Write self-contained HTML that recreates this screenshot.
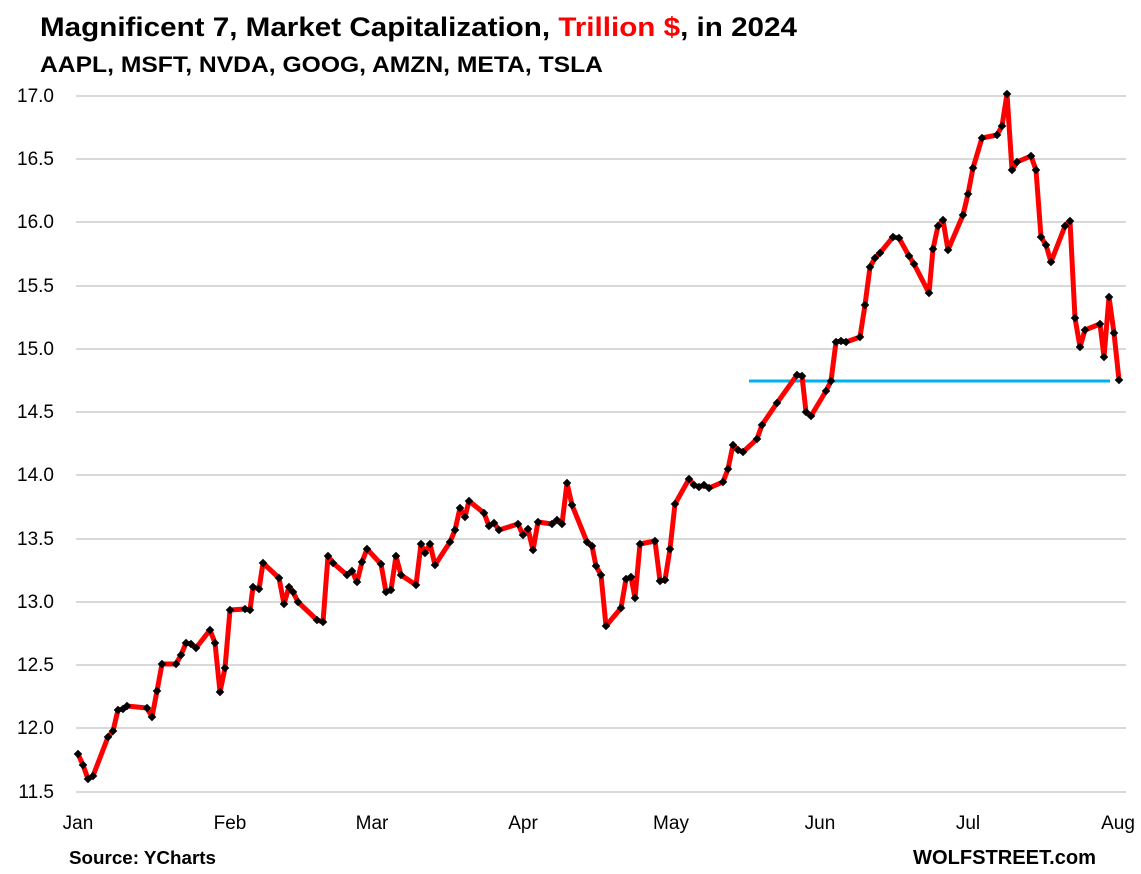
<!DOCTYPE html>
<html><head><meta charset="utf-8"><style>
html,body{margin:0;padding:0;background:#fff;}
svg{display:block;font-family:"Liberation Sans",Arial,sans-serif;}
</style></head><body>
<svg width="1141" height="874" viewBox="0 0 1141 874" xmlns="http://www.w3.org/2000/svg">
<rect width="1141" height="874" fill="#fff"/>
<text x="40" y="36" font-size="27" font-weight="bold" fill="#000" textLength="757" lengthAdjust="spacingAndGlyphs">Magnificent 7, Market Capitalization, <tspan fill="#f00">Trillion $</tspan>, in 2024</text>
<text x="40" y="72" font-size="22" font-weight="bold" fill="#000" textLength="563" lengthAdjust="spacingAndGlyphs">AAPL, MSFT, NVDA, GOOG, AMZN, META, TSLA</text>
<g stroke="#d9d9d9" stroke-width="2">
<line x1="76" x2="1126" y1="96" y2="96"/><line x1="76" x2="1126" y1="159" y2="159"/>
<line x1="76" x2="1126" y1="222" y2="222"/><line x1="76" x2="1126" y1="286" y2="286"/>
<line x1="76" x2="1126" y1="349" y2="349"/><line x1="76" x2="1126" y1="412" y2="412"/>
<line x1="76" x2="1126" y1="475" y2="475"/><line x1="76" x2="1126" y1="539" y2="539"/>
<line x1="76" x2="1126" y1="602" y2="602"/><line x1="76" x2="1126" y1="665" y2="665"/>
<line x1="76" x2="1126" y1="728" y2="728"/><line x1="76" x2="1126" y1="792" y2="792"/>
</g>
<g font-size="19" fill="#000" text-anchor="end">
<text x="54" y="102">17.0</text><text x="54" y="165">16.5</text><text x="54" y="228">16.0</text>
<text x="54" y="292">15.5</text><text x="54" y="355">15.0</text><text x="54" y="418">14.5</text>
<text x="54" y="481">14.0</text><text x="54" y="545">13.5</text><text x="54" y="608">13.0</text>
<text x="54" y="671">12.5</text><text x="54" y="734">12.0</text><text x="54" y="798">11.5</text>
</g>
<g font-size="19" fill="#000" text-anchor="middle">
<text x="78" y="829">Jan</text><text x="230" y="829">Feb</text><text x="372" y="829">Mar</text>
<text x="523" y="829">Apr</text><text x="671" y="829">May</text><text x="820" y="829">Jun</text>
<text x="968" y="829">Jul</text><text x="1118" y="829">Aug</text>
</g>
<text x="69" y="864" font-size="18" font-weight="bold" textLength="147" lengthAdjust="spacingAndGlyphs">Source: YCharts</text>
<text x="913" y="864" font-size="20" font-weight="bold" textLength="183" lengthAdjust="spacingAndGlyphs">WOLFSTREET.com</text>
<line x1="749" x2="1110" y1="381" y2="381" stroke="#00b0f0" stroke-width="3"/>
<polyline id="p" fill="none" stroke="#f00" stroke-width="5" stroke-linejoin="round" points="78,754 83,765 88,779 93,776 108,737 113,731 118,710 123,709 127,706 147,708 152,717 157,691 162,664 176,664 181,655 186,643 191,644 196,648 210,630 215,643 220,692 225,668 230,610 245,609 250,610 253,587 259,589 263,563 279,578 284,604 289,587 293,592 298,602 317,620 323,622 328,556 333,563 347,575 352,571 357,582 362,562 367,549 381,564 386,592 391,590 396,556 401,575 416,585 421,544 425,553 430,544 435,565 450,542 455,530 460,508 465,517 469,501 484,513 489,526 494,523 499,530 518,524 523,535 528,529 533,550 538,522 552,524 557,520 562,524 567,483 572,505 587,542 592,546 596,566 601,575 606,626 621,608 626,579 631,577 635,598 640,544 655,541 660,581 665,580 670,549 675,504 689,479 694,485 699,487 704,485 709,488 723,482 728,469 733,445 738,450 743,452 757,439 762,425 777,403 797,375 802,376 806,412 811,416 826,391 831,381 836,342 841,341 846,342 860,337 865,305 870,267 875,258 880,253 893,237 899,238 909,256 914,264 929,293 933,249 938,226 943,220 948,250 963,215 968,194 973,168 982,138 997,135 1002,126 1007,94 1012,170 1017,162 1031,156 1036,170 1041,237 1046,245 1051,262 1065,226 1070,221 1075,318 1080,347 1085,330 1100,324 1104,357 1109,297 1114,333 1119,380"/>
<g id="m" fill="#000"></g>
</svg>
<script>
var pts=document.getElementById('p').getAttribute('points').trim().split(/\s+/);
var g=document.getElementById('m'),s='',r=4.3;
pts.forEach(function(q){var a=q.split(',');var x=+a[0],y=+a[1];
s+='<polygon points="'+x+','+(y-r)+' '+(x+r)+','+y+' '+x+','+(y+r)+' '+(x-r)+','+y+'"/>';});
g.innerHTML=s;
</script>
</body></html>
